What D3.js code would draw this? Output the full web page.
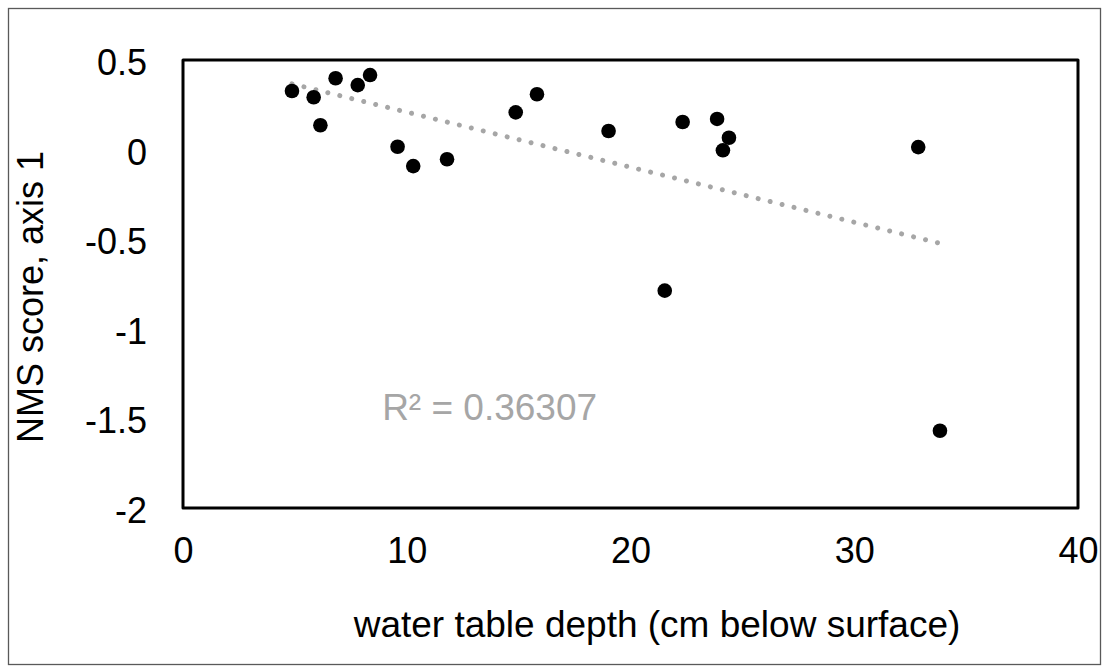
<!DOCTYPE html>
<html>
<head>
<meta charset="utf-8">
<script src="https://cdn.jsdelivr.net/npm/d3@7"></script>
<style>
  body { margin: 0; background: #fff; }
  svg { display: block; font-family: 'Liberation Sans', Arial, sans-serif; }
</style>
</head>
<body>
<svg id="chart"></svg>
<script>
// water table depth (cm below surface)
const depth = [4.87, 5.84, 6.14, 6.82, 7.81, 8.36, 9.59, 10.29, 11.8, 14.87,
  15.82, 19.02, 21.53, 22.33, 23.87, 24.13, 24.4, 32.86, 33.83]
// NMS score, axis 1
const nmsScore = [0.327, 0.292, 0.136, 0.398, 0.36, 0.416, 0.016, -0.092, -0.054, 0.208,
  0.309, 0.104, -0.787, 0.154, 0.171, -0.004, 0.066, 0.014, -1.569]

const xTicks = [0, 10, 20, 30, 40]
const yTicks = [0.5, 0, -0.5, -1, -1.5, -2]
const rSquaredLabel = 'R² = 0.36307'

const width = 1109
const height = 672
const margin = { top: 60, right: 31, bottom: 164, left: 183 }
const innerWidth = width - margin.left - margin.right
const innerHeight = height - margin.top - margin.bottom

const svg = d3.select('#chart')
  .attr('width', width)
  .attr('height', height)
  .attr('viewBox', `0 0 ${width} ${height}`)

// outer chart border
svg.append('rect')
  .attr('x', 8.5)
  .attr('y', 8.5)
  .attr('width', width - 17)
  .attr('height', height - 16)
  .attr('fill', '#fff')
  .attr('stroke', '#595959')
  .attr('stroke-width', 1.3)

const g = svg.append('g')
  .attr('transform', `translate(${margin.left},${margin.top})`)

// ------------------
// Scales
// ------------------
const x = d3.scaleLinear().domain([0, 40]).range([0, innerWidth])
const y = d3.scaleLinear().domain([-2, 0.5]).range([innerHeight, 0])

// ------------------
// Axes (labels only, frame drawn separately)
// ------------------
const xAxis = g.append('g')
  .attr('transform', `translate(0,${innerHeight})`)
  .call(d3.axisBottom(x).tickValues(xTicks).tickSize(0).tickPadding(29).tickFormat(d => String(d)))
xAxis.select('.domain').remove()
xAxis.selectAll('text')
  .attr('font-size', 36)
  .attr('fill', '#000')
xAxis.attr('font-family', null)

const yAxis = g.append('g')
  .call(d3.axisLeft(y).tickValues(yTicks).tickSize(0).tickPadding(36).tickFormat(d => String(d)))
yAxis.select('.domain').remove()
yAxis.selectAll('text')
  .attr('font-size', 36)
  .attr('dy', '0.4em')
  .attr('fill', '#000')
yAxis.attr('font-family', null)

// plot frame
g.append('rect')
  .attr('width', innerWidth)
  .attr('height', innerHeight)
  .attr('fill', 'none')
  .attr('stroke', '#000')
  .attr('stroke-width', 3)
  .attr('stroke-linejoin', 'round')

// ------------------
// Trendline (least squares)
// ------------------
const pts = depth.map((d, i) => ({ x: d, y: nmsScore[i] }))
const mx = d3.mean(depth)
const my = d3.mean(nmsScore)
const sxy = d3.sum(pts, p => (p.x - mx) * (p.y - my))
const sxx = d3.sum(pts, p => (p.x - mx) ** 2)
const slope = sxy / sxx
const intercept = my - slope * mx
const [x0, x1] = d3.extent(depth)
const trend = [x0, x1].map(v => ({ x: v, y: intercept + slope * v }))

g.append('path')
  .datum(trend)
  .attr('fill', 'none')
  .attr('stroke', '#a6a6a6')
  .attr('stroke-width', 5)
  .attr('stroke-linecap', 'round')
  .attr('stroke-dasharray', '0.01 12.3')
  .attr('d', d3.line().x(d => x(d.x)).y(d => y(d.y)))

// ------------------
// Points
// ------------------
g.selectAll('.dot')
  .data(pts)
  .enter()
  .append('circle')
  .attr('class', 'dot')
  .attr('cx', d => x(d.x))
  .attr('cy', d => y(d.y))
  .attr('r', 7.3)
  .attr('fill', '#000')

// R² label
g.append('text')
  .attr('x', x(8.9))
  .attr('y', y(-1.51))
  .attr('font-size', 37)
  .attr('fill', '#a6a6a6')
  .text(rSquaredLabel)

// ------------------
// Axis titles
// ------------------
svg.append('text')
  .attr('x', 657)
  .attr('y', 637)
  .attr('text-anchor', 'middle')
  .attr('font-size', 37)
  .text('water table depth (cm below surface)')

svg.append('text')
  .attr('transform', 'translate(43,297) rotate(-90)')
  .attr('text-anchor', 'middle')
  .attr('font-size', 36)
  .text('NMS score, axis 1')
</script>
</body>
</html>
